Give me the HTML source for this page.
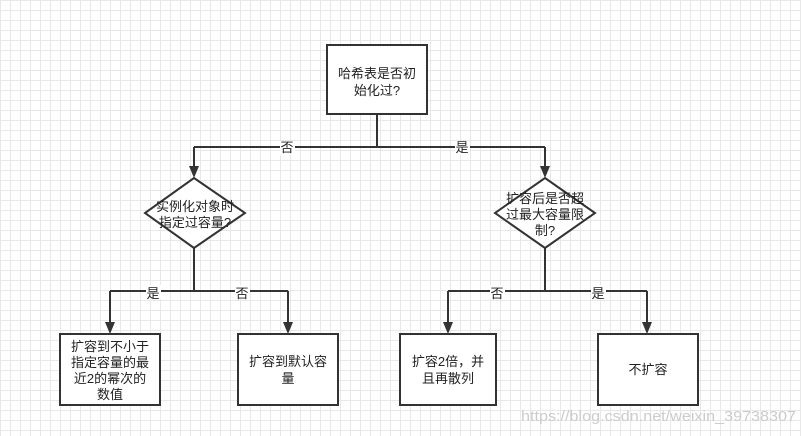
<!DOCTYPE html><html><head><meta charset="utf-8"><style>
body{margin:0;width:801px;height:436px;overflow:hidden;background:#fff;
background-image:linear-gradient(#e8e8e8 1px,transparent 1px),linear-gradient(90deg,#e8e8e8 1px,transparent 1px);background-size:10px 10px;}
svg{position:absolute;left:0;top:0}
text{font-family:"Liberation Sans","Noto Sans CJK SC",sans-serif;font-size:13px;fill:#222;text-anchor:middle}
</style></head><body>
<svg width="801" height="436">
<g stroke="#333" stroke-width="2" fill="none">
<rect x="327" y="45" width="100" height="69" fill="#fff"/>
<path d="M377,114 V147 M194,147 H545"/>
<path d="M194,147 V168 M545,147 V168"/>
<path d="M194,178 L245,213 L194,248 L145,213 Z" fill="#fff"/>
<path d="M545,178 L595,213 L545,248 L495,213 Z" fill="#fff"/>
<path d="M194,248 V291 M110,291 H288 M110,291 V324 M288,291 V324"/>
<path d="M545,248 V291 M448,291 H647 M448,291 V324 M647,291 V324"/>
<rect x="60" y="334" width="100" height="71" fill="#fff"/>
<rect x="238" y="334" width="100" height="71" fill="#fff"/>
<rect x="400" y="334" width="96" height="71" fill="#fff"/>
<rect x="598" y="334" width="100" height="71" fill="#fff"/>
</g>
<g fill="#333">
<path d="M189,166 L199,166 L194,178Z"/><path d="M540,166 L550,166 L545,178Z"/>
<path d="M105,322 L115,322 L110,334Z"/><path d="M283,322 L293,322 L288,334Z"/>
<path d="M443,322 L453,322 L448,334Z"/><path d="M642,322 L652,322 L647,334Z"/>
</g>
<g fill="#fff"><rect x="280" y="141" width="15" height="14"/><rect x="455" y="141" width="15" height="14"/>
<rect x="146" y="285" width="15" height="14"/><rect x="235" y="285" width="15" height="14"/>
<rect x="490" y="285" width="15" height="14"/><rect x="591" y="285" width="15" height="14"/></g>
<text x="287" y="152">否</text><text x="462" y="152">是</text>
<text x="153" y="298">是</text><text x="242" y="298">否</text>
<text x="497" y="298">否</text><text x="598" y="298">是</text>
<text x="377" y="78">哈希表是否初</text><text x="377" y="95">始化过?</text>
<text x="195" y="211">实例化对象时</text><text x="195" y="227">指定过容量?</text>
<text x="545" y="203">扩容后是否超</text><text x="545" y="219">过最大容量限</text><text x="545" y="235">制?</text>
<text x="110" y="351">扩容到不小于</text><text x="110" y="367">指定容量的最</text><text x="110" y="383">近2的幂次的</text><text x="110" y="399">数值</text>
<text x="288" y="366">扩容到默认容</text><text x="288" y="383">量</text>
<text x="448" y="366">扩容2倍，并</text><text x="448" y="383">且再散列</text>
<text x="648" y="374">不扩容</text>
<text x="796" y="421" textLength="275" lengthAdjust="spacingAndGlyphs" style="fill:#ccc;font-size:15px;text-anchor:end">https://blog.csdn.net/weixin_39738307</text>
</svg></body></html>
